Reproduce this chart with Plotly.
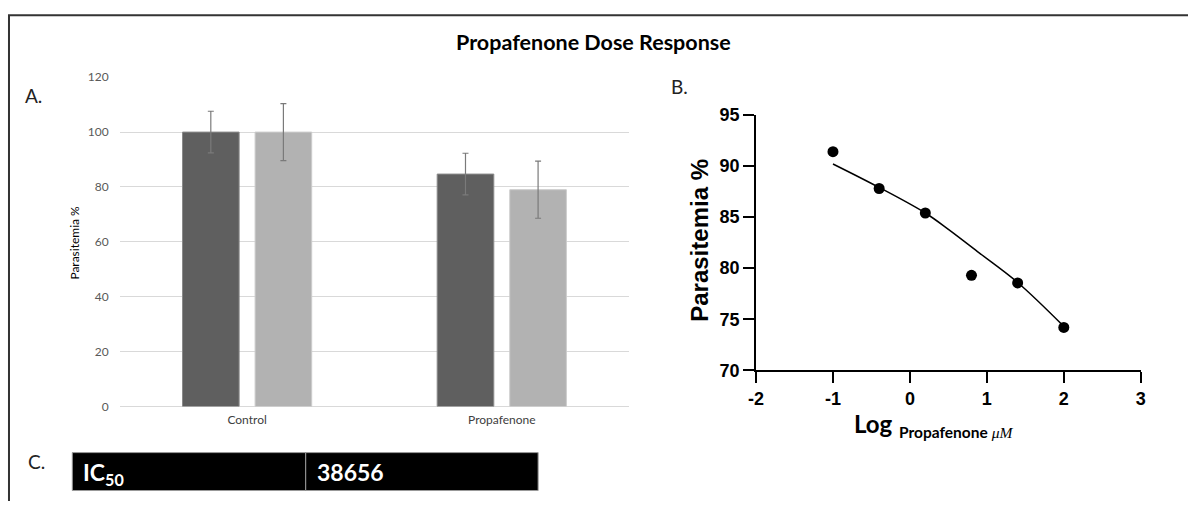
import plotly.graph_objects as go

# The page body keeps its default 8px margin, so the figure is sized to fill
# the 1204x517 window exactly and positions are given in window pixels.
WIN_W, WIN_H = 1204, 517
OFF = 8
W, H = WIN_W - 2 * OFF, WIN_H - 2 * OFF

# ---------------- data ----------------
# Panel A (bar chart)
categories = ["Control", "Propafenone"]
series1_vals = [100, 84.7]
series1_err = [7.6, 7.6]
series2_vals = [100, 79.0]
series2_err = [10.4, 10.4]
a_yticks = [0, 20, 40, 60, 80, 100, 120]

# Panel B (dose response)
log_dose = [-1.0, -0.4, 0.2, 0.8, 1.4, 2.0]
parasitemia = [91.4, 87.8, 85.4, 79.3, 78.55, 74.2]
fit_x = [-1.0, -0.4, 0.2, 0.5, 0.9, 1.4, 2.0]
fit_y = [90.2, 87.9, 85.4, 83.8, 81.5, 78.6, 74.3]
b_xticks = [-2, -1, 0, 1, 2, 3]
b_xticktext = ["-2", "-1", "0", "1", "2", "3"]
b_yticks = [70, 75, 80, 85, 90, 95]

# Panel C (table)
table_label = "IC<sub>50</sub>"
table_value = "38656"


def px(x):
    return (x - OFF) / W


def py(y):
    return 1 - (y - OFF) / H


fig = go.Figure()

# ---- Panel A ----
fig.add_trace(go.Bar(
    x=categories, y=series1_vals, name="Series 1",
    marker=dict(color="#5f5f5f", line=dict(color="#8a8a8a", width=1)),
    error_y=dict(type="data", array=series1_err, color="#7a7a7a", thickness=1.2, width=3),
    xaxis="x", yaxis="y", showlegend=False,
))
fig.add_trace(go.Bar(
    x=categories, y=series2_vals, name="Series 2",
    marker=dict(color="#b2b2b2", line=dict(color="#cccccc", width=1)),
    error_y=dict(type="data", array=series2_err, color="#7a7a7a", thickness=1.2, width=3),
    xaxis="x", yaxis="y", showlegend=False,
))

# ---- Panel B ----
fig.add_trace(go.Scatter(
    x=fit_x, y=fit_y, mode="lines", line=dict(color="black", width=1.5, shape="spline"),
    xaxis="x2", yaxis="y2", showlegend=False, name="Fit",
))
fig.add_trace(go.Scatter(
    x=log_dose, y=parasitemia, mode="markers", marker=dict(color="black", size=11),
    xaxis="x2", yaxis="y2", showlegend=False, name="Data",
))

arial = "Liberation Sans, Arial"

fig.update_layout(
    width=W, height=H,
    margin=dict(l=0, r=0, t=0, b=0),
    paper_bgcolor="white", plot_bgcolor="white",
    font=dict(family="Lato", color="black"),
    barmode="group", bargap=0.43, bargroupgap=0.22,
    xaxis=dict(
        domain=[px(121), px(636)], type="category", anchor="y",
        showline=False, ticks="", showgrid=False, zeroline=False,
        tickfont=dict(family="Lato", size=12, color="#404040"),
        ticklabelstandoff=4,
    ),
    yaxis=dict(
        domain=[py(421), py(78)], range=[0, 120], anchor="x",
        tickvals=a_yticks, showgrid=True, gridcolor="#d9d9d9", gridwidth=1,
        zeroline=True, zerolinecolor="#d9d9d9", zerolinewidth=1,
        showline=False, ticks="",
        tickfont=dict(family="Lato", size=12, color="#595959"),
        ticklabelstandoff=10,
    ),
    xaxis2=dict(
        domain=[px(764.3), px(1153.3)], range=[-2, 3], anchor="y2",
        tickvals=b_xticks, ticktext=b_xticktext,
        showline=True, linecolor="black", linewidth=2,
        ticks="outside", ticklen=11, tickwidth=2, tickcolor="black",
        showgrid=False, zeroline=False,
        tickfont=dict(family=arial, size=18, color="black", weight="bold"),
    ),
    yaxis2=dict(
        domain=[py(383.3), py(117.3)], range=[70, 95], anchor="x2",
        tickvals=b_yticks,
        showline=True, linecolor="black", linewidth=2,
        ticks="outside", ticklen=11, tickwidth=2, tickcolor="black",
        showgrid=False, zeroline=False,
        tickfont=dict(family=arial, size=18, color="black", weight="bold"),
    ),
)

shapes = [
    # outer border (cropped at right and bottom)
    dict(type="rect", xref="paper", yref="paper", x0=px(9), y0=py(13.5), x1=1.05, y1=-0.05,
         line=dict(color="#333333", width=2), fillcolor="rgba(0,0,0,0)", layer="below"),
    # table cells
    dict(type="rect", xref="paper", yref="paper", x0=px(73), y0=py(508.5), x1=px(309), y1=py(469),
         line=dict(color="#9a9a9a", width=1), fillcolor="black"),
    dict(type="rect", xref="paper", yref="paper", x0=px(309), y0=py(508.5), x1=px(544), y1=py(469),
         line=dict(color="#9a9a9a", width=1), fillcolor="black"),
]
fig.update_layout(shapes=shapes)

annotations = [
    dict(text="<b>Propafenone Dose Response</b>", x=px(600), y=py(41), xref="paper", yref="paper",
         showarrow=False, font=dict(family="Lato", size=21.5, color="black"), xanchor="center", yanchor="middle"),
    dict(text="A.", x=px(23), y=py(97), xref="paper", yref="paper", showarrow=False,
         font=dict(family="Lato", size=19, color="#222"), xanchor="left", yanchor="middle"),
    dict(text="B.", x=px(676), y=py(88), xref="paper", yref="paper", showarrow=False,
         font=dict(family="Lato", size=19, color="#222"), xanchor="left", yanchor="middle"),
    dict(text="C.", x=px(26), y=py(478), xref="paper", yref="paper", showarrow=False,
         font=dict(family="Lato", size=19, color="#222"), xanchor="left", yanchor="middle"),
    # Panel A y title
    dict(text="Parasitemia %", x=px(75), y=py(250), xref="paper", yref="paper", showarrow=False,
         textangle=-90, font=dict(family="Lato", size=12, color="black"), xanchor="center", yanchor="middle"),
    # Panel B y title
    dict(text="<b>Parasitemia %</b>", x=px(707), y=py(248), xref="paper", yref="paper", showarrow=False,
         textangle=-90, font=dict(family=arial, size=24, color="black"), xanchor="center", yanchor="middle"),
    # Panel B x title
    dict(text="<b>Log</b>", x=px(861), y=py(439), xref="paper", yref="paper", showarrow=False,
         font=dict(family="Lato", size=24, color="black"), xanchor="left", yanchor="middle"),
    dict(text="<b>Propafenone</b> <span style=\"font-style:italic;font-family:Liberation Serif\">μM</span>",
         x=px(907), y=py(448), xref="paper", yref="paper", showarrow=False,
         font=dict(family="Lato", size=15.5, color="black"), xanchor="left", yanchor="middle"),
    # table text
    dict(text="<b>" + table_label + "</b>", x=px(82), y=py(491), xref="paper", yref="paper", showarrow=False,
         font=dict(family="Lato", size=23, color="white"), xanchor="left", yanchor="middle"),
    dict(text="<b>" + table_value + "</b>", x=px(318), y=py(489), xref="paper", yref="paper", showarrow=False,
         font=dict(family="Lato", size=23, color="white"), xanchor="left", yanchor="middle"),
]
fig.update_layout(annotations=annotations)

fig.write_html("out.html")
